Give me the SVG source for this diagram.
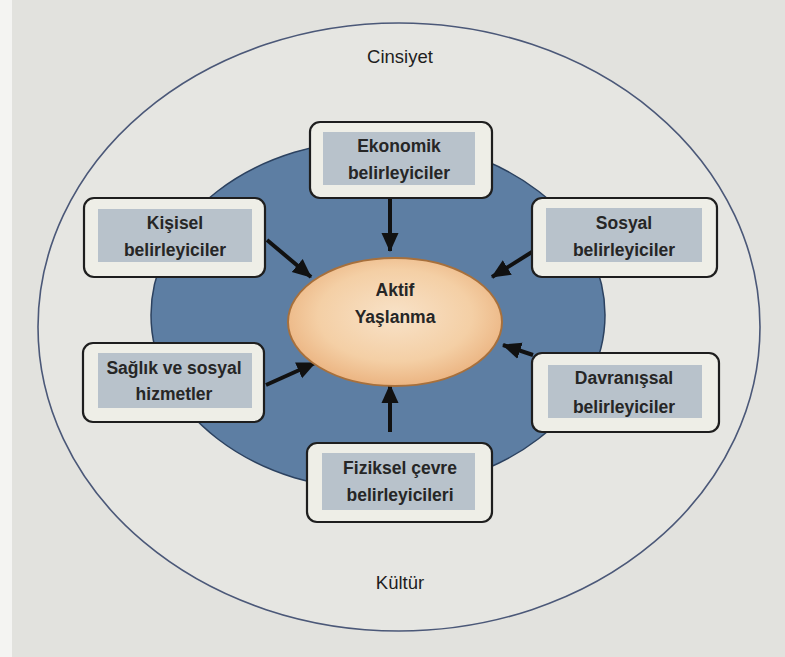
<svg xmlns="http://www.w3.org/2000/svg" width="785" height="657" viewBox="0 0 785 657">
<defs>
<style>
.bg{fill:#e2e2de}
.outer{fill:#e6e6e2;stroke:#4b5878;stroke-width:1.6}
.ring{fill:#5d7ea3;stroke:#2c4260;stroke-width:1.5}
.core{fill:url(#coreGrad);stroke:#a7703c;stroke-width:2}
.box{fill:#eeeee7;stroke:#1e1e1e;stroke-width:2.2}
.inner{fill:#b8c2cb}
.t{font-family:"Liberation Sans",Arial,sans-serif;font-size:17.5px;font-weight:bold;fill:#262626;text-anchor:middle}
.tn{font-family:"Liberation Sans",Arial,sans-serif;font-size:18.5px;fill:#1e1e1e;text-anchor:middle}
.arr{stroke:#111;stroke-width:4;fill:none;marker-end:url(#ah)}
</style>
<radialGradient id="coreGrad" cx="0.5" cy="0.45" r="0.6">
<stop offset="0" stop-color="#f8e2c8"/>
<stop offset="0.6" stop-color="#f4cfa5"/>
<stop offset="1" stop-color="#e9ad78"/>
</radialGradient>
<marker id="ah" markerUnits="userSpaceOnUse" markerWidth="19" markerHeight="19" viewBox="0 0 19 19" refX="18" refY="9.5" orient="auto">
<path d="M0,1 L19,9.5 L0,18 Z" fill="#111"/>
</marker>
</defs>
<rect class="bg" x="0" y="0" width="785" height="657"/>
<rect x="0" y="0" width="12" height="657" fill="#f4f4f2"/>

<g id="outer-ellipse">
<ellipse class="outer" cx="399" cy="327" rx="361" ry="304"/>
<text class="tn" x="400" y="63">Cinsiyet</text>
<text class="tn" x="400" y="589">Kültür</text>
</g>

<g id="ring">
<ellipse class="ring" cx="378" cy="315" rx="227" ry="175"/>
</g>

<g id="connectors">
<line class="arr" x1="390" y1="199" x2="390" y2="251"/>
<line class="arr" x1="267" y1="240" x2="311" y2="277"/>
<line class="arr" x1="532" y1="252" x2="492" y2="277"/>
<line class="arr" x1="266" y1="385" x2="315" y2="363"/>
<line class="arr" x1="533" y1="355" x2="503" y2="345"/>
<line class="arr" x1="390" y1="432" x2="390" y2="385"/>
</g>

<g id="aktif-yaslanma">
<ellipse class="core" cx="395" cy="322" rx="107" ry="64"/>
<text class="t" x="395" y="296">Aktif</text>
<text class="t" x="395" y="323">Yaşlanma</text>
</g>

<g id="ekonomik">
<rect class="box" x="310" y="122" width="182" height="76" rx="10"/>
<rect class="inner" x="323" y="132" width="152" height="53"/>
<text class="t" x="399" y="152">Ekonomik</text>
<text class="t" x="399" y="179">belirleyiciler</text>
</g>

<g id="kisisel">
<rect class="box" x="84" y="198" width="181" height="79" rx="10"/>
<rect class="inner" x="98" y="209" width="154" height="53"/>
<text class="t" x="175" y="229">Kişisel</text>
<text class="t" x="175" y="256">belirleyiciler</text>
</g>

<g id="sosyal">
<rect class="box" x="532" y="198" width="185" height="79" rx="10"/>
<rect class="inner" x="546" y="208" width="156" height="54"/>
<text class="t" x="624" y="229">Sosyal</text>
<text class="t" x="624" y="256">belirleyiciler</text>
</g>

<g id="saglik">
<rect class="box" x="83" y="343" width="181" height="79" rx="10"/>
<rect class="inner" x="98" y="353" width="154" height="55"/>
<text class="t" x="174" y="374">Sağlık ve sosyal</text>
<text class="t" x="174" y="400">hizmetler</text>
</g>

<g id="davranissal">
<rect class="box" x="532" y="353" width="187" height="79" rx="10"/>
<rect class="inner" x="548" y="365" width="154" height="53"/>
<text class="t" x="624" y="384">Davranışsal</text>
<text class="t" x="624" y="413">belirleyiciler</text>
</g>

<g id="fiziksel">
<rect class="box" x="307" y="443" width="185" height="79" rx="10"/>
<rect class="inner" x="322" y="453" width="153" height="57"/>
<text class="t" x="400" y="474">Fiziksel çevre</text>
<text class="t" x="400" y="501">belirleyicileri</text>
</g>
</svg>
